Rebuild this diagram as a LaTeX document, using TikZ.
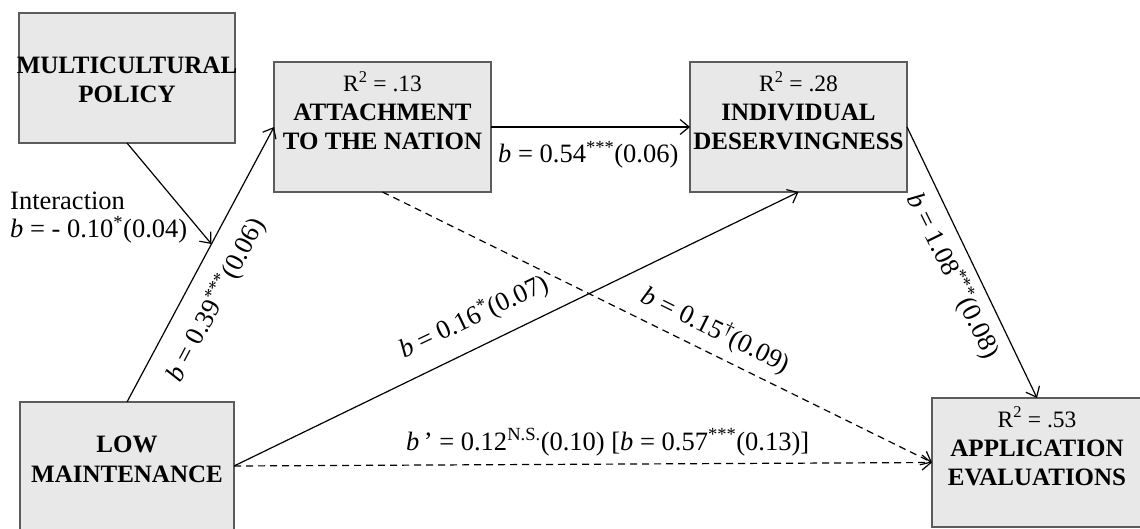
\documentclass[tikz,border=0pt]{standalone}
\usepackage{fontspec}
\setmainfont{Liberation Serif}
\usetikzlibrary{arrows.meta}
\definecolor{boxfill}{HTML}{E8E8E8}
\definecolor{boxdraw}{HTML}{5C5C5C}
\begin{document}
\begin{tikzpicture}[x=1pt,y=-1pt,
  box/.style={draw=boxdraw, fill=boxfill, line width=1.5pt, inner sep=0pt, outer sep=0pt},
  btxt/.style={font=\fontsize{25}{29}\selectfont\bfseries, inner sep=0pt, anchor=base},
  rsq/.style={font=\fontsize{23.5}{29}\selectfont, inner sep=0pt, anchor=base},
  lbl/.style={font=\fontsize{26.5}{28}\selectfont, inner sep=0pt},
  conn/.style={line width=1.2pt, -{Straight Barb[length=9pt,width=15pt,line width=1.2pt]}},
  dconn/.style={conn, dash pattern=on 7pt off 5pt}]
\useasboundingbox (0,0) rectangle (1140,529);
% boxes
\node[box, minimum width=216pt, minimum height=130pt] (mc)  at (127,78) {};
\node[box, minimum width=217pt, minimum height=130pt] (att) at (382.5,127) {};
\node[box, minimum width=217pt, minimum height=130pt] (ind) at (798.5,127) {};
\node[box, minimum width=214pt, minimum height=128pt] (lm)  at (127,466) {};
\node[box, minimum width=210pt, minimum height=129pt] (app) at (1037,462.5) {};
% box texts
\node[btxt] (mct1) at ([yshift=-61pt]mc.north) {MULTICULTURAL};
\node[btxt] (mct2) at ([yshift=-90pt]mc.north) {POLICY};
\node[rsq]  (attr) at ([yshift=-30pt]att.north) {R\textsuperscript{2} = .13};
\node[btxt] (att1) at ([yshift=-59pt]att.north) {ATTACHMENT};
\node[btxt] (att2) at ([yshift=-88pt]att.north) {TO THE NATION};
\node[rsq]  (indr) at ([yshift=-30pt]ind.north) {R\textsuperscript{2} = .28};
\node[btxt] (ind1) at ([yshift=-59pt]ind.north) {INDIVIDUAL};
\node[btxt] (ind2) at ([yshift=-88pt]ind.north) {DESERVINGNESS};
\node[btxt] (lm1)  at ([yshift=-50pt]lm.north) {LOW};
\node[btxt] (lm2)  at ([yshift=-80pt]lm.north) {MAINTENANCE};
\node[rsq]  (appr) at ([yshift=-29pt]app.north) {R\textsuperscript{2} = .53};
\node[btxt] (app1) at ([yshift=-58pt]app.north) {APPLICATION};
\node[btxt] (app2) at ([yshift=-87pt]app.north) {EVALUATIONS};
% connectors
\draw[conn] (lm.north) -- coordinate[pos=0.5745] (mcend) (att.west);
\draw[conn] (mc.south) -- (mcend);
\draw[conn] (att.east) -- (ind.west);
\draw[conn] (ind.east) -- (app.north);
\draw[conn] (lm.east) -- (ind.south);
\draw[dconn] (att.south) -- (app.west);
\draw[dconn] (lm.east) -- (app.west);
% labels
\node[lbl, anchor=base west] (int1) at (10,210) {Interaction};
\node[lbl, anchor=base west] (int2) at (10,238) {\textit{b} = - 0.10\textsuperscript{*}(0.04)};
\node[lbl, rotate=61.9] (l39) at (216,300) {\textit{b} = 0.39\textsuperscript{***}(0.06)};
\node[lbl, anchor=base west] (l54) at (498,163) {\textit{b} = 0.54\textsuperscript{***}(0.06)};
\node[lbl, rotate=25.5] (l16) at (474,317) {\textit{b} = 0.16\textsuperscript{*}(0.07)};
\node[lbl, rotate=-26.3] (l15) at (716,330) {\textit{b} = 0.15\textsuperscript{†}(0.09)};
\node[lbl, rotate=-63.8] (l108) at (953,276) {\textit{b} = 1.08\textsuperscript{***}(0.08)};
\node[lbl, anchor=base west] (l12) at (406,450) {\textit{b}\,’ = 0.12\textsuperscript{N.S.}(0.10) [\textit{b} = 0.57\textsuperscript{***}(0.13)]};
\end{tikzpicture}
\end{document}
